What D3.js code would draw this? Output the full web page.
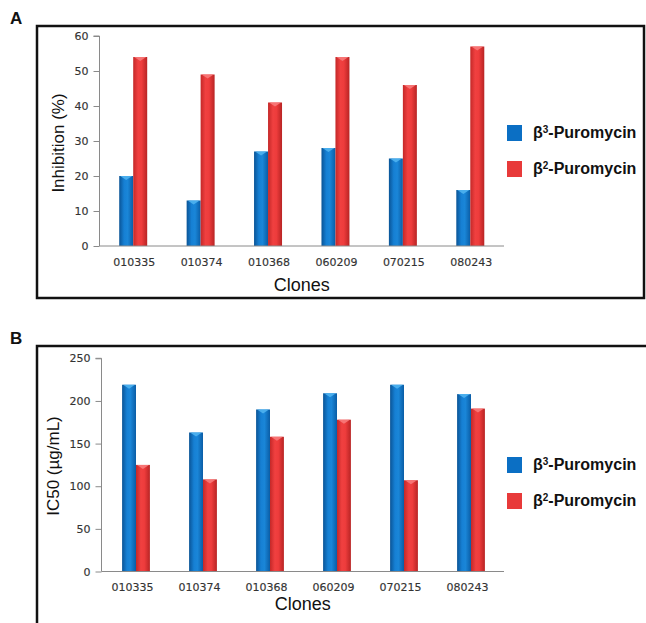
<!DOCTYPE html>
<html><head><meta charset="utf-8">
<script src="https://cdn.jsdelivr.net/npm/d3@7"></script>
<style>body{margin:0;background:#fff}svg{display:block}</style>
</head><body>
<svg id="c" width="646" height="623"></svg>
<script>
const clones = ["010335","010374","010368","060209","070215","080243"];
const seriesNames = ["β3","β2"];
const inhibitionB3 = [20,13,27,28,25,16];
const inhibitionB2 = [54,49,41,54,46,57];
const ic50B3 = [219,163,190,209,219,208];
const ic50B2 = [125,108,158,178,107,191];
const ticksA = [0,10,20,30,40,50,60];
const ticksB = [0,50,100,150,200,250];

const svg = d3.select("#c");
const defs = svg.append("defs");
function grad(id, stops){
  const g = defs.append("linearGradient").attr("id",id).attr("x1","0").attr("x2","1").attr("y1","0").attr("y2","0");
  stops.forEach(s=>g.append("stop").attr("offset",s[0]).attr("stop-color",s[1]));
}
grad("gBlue",[[0,"#0a5496"],[0.35,"#1680d4"],[0.6,"#1a86d8"],[1,"#0a5da6"]]);
grad("gRed",[[0,"#c42828"],[0.35,"#f04040"],[0.6,"#ee3c3c"],[1,"#b82424"]]);
const colors = {fill:["url(#gBlue)","url(#gRed)"], cap:["#4fb3f0","#f77a7a"], legend:["#0b6fc4","#e83a3a"]};

function panel(cfg){
  const g = svg.append("g");
  g.append("rect").attr("x",cfg.frame[0]).attr("y",cfg.frame[1]).attr("width",cfg.frame[2]).attr("height",cfg.frame[3])
    .attr("fill","none").attr("stroke","#111").attr("stroke-width",2.5);
  g.append("text").attr("x",10).attr("y",cfg.frame[1]-2).text(cfg.letter)
    .attr("font-family","Liberation Sans, Arial").attr("font-weight","bold").attr("font-size",17).attr("fill","#111");
  const x = d3.scaleBand().domain(clones).range([cfg.bx0,cfg.bx1]).paddingInner(0.585).paddingOuter(0.2925);
  const xs = d3.scaleBand().domain([0,1]).range([0,x.bandwidth()]);
  const y = d3.scaleLinear().domain([0,cfg.max]).range([cfg.y0,cfg.yTop]);
  const series = [cfg.b3,cfg.b2];
  series.forEach((vals,si)=>{
    const gs = g.append("g");
    gs.selectAll("rect").data(vals).join("rect")
      .attr("x",(d,i)=>x(clones[i])+xs(si)).attr("width",xs.bandwidth())
      .attr("y",d=>y(d)).attr("height",d=>cfg.y0-y(d)).attr("fill",colors.fill[si]);
    gs.selectAll("path").data(vals).join("path")
      .attr("d",(d,i)=>{const bx=x(clones[i])+xs(si), w=xs.bandwidth(), ty=y(d);
        return `M${bx+1},${ty} L${bx+w-1},${ty} L${bx+w/2},${ty+4} Z`;})
      .attr("fill",colors.cap[si]).attr("opacity",0.9);
  });
  const ya = g.append("g").attr("transform",`translate(${cfg.x0},0)`)
    .call(d3.axisLeft(y).tickValues(cfg.ticks).tickSize(6).tickPadding(5));
  ya.select(".domain").attr("stroke","#8a8a8a").attr("d",`M-6,${cfg.yTop}H0V${cfg.y0}`);
  ya.selectAll(".tick line").attr("stroke","#8a8a8a");
  ya.selectAll("text").attr("font-family","DejaVu Sans, Verdana").attr("font-size",11).attr("fill","#333")
    .attr("stroke","#333").attr("stroke-width",0.15);
  const xa = g.append("g").attr("transform",`translate(${cfg.labOff},${cfg.y0})`)
    .call(d3.axisBottom(x).tickSize(0).tickPadding(12));
  xa.select(".domain").attr("stroke","#8a8a8a").attr("d",`M${cfg.x0-cfg.labOff},0H${cfg.x1-cfg.labOff}`);
  xa.selectAll("text").attr("font-family","DejaVu Sans, Verdana").attr("font-size",11).attr("fill","#333")
    .attr("stroke","#333").attr("stroke-width",0.15);
  g.append("text").attr("transform",`translate(${cfg.ylabX},${cfg.ylabY}) rotate(-90)`).attr("text-anchor","middle")
    .attr("font-family","Liberation Sans, Arial").attr("font-size",17).attr("fill","#111").text(cfg.ylab);
  g.append("text").attr("x",(cfg.x0+cfg.x1)/2).attr("y",cfg.xlabY).attr("text-anchor","middle")
    .attr("font-family","Liberation Sans, Arial").attr("font-size",18).attr("fill","#111").text("Clones");
  seriesNames.forEach((n,i)=>{
    const ly = cfg.legY + i*36;
    g.append("rect").attr("x",507).attr("y",ly).attr("width",15).attr("height",16).attr("fill",colors.legend[i]);
    const t = g.append("text").attr("x",533).attr("y",ly+13).attr("font-family","Liberation Sans, Arial")
      .attr("font-weight","bold").attr("font-size",16).attr("fill","#111");
    t.append("tspan").text("β");
    t.append("tspan").attr("font-size",10).attr("dy",-5).text(n.slice(1));
    t.append("tspan").attr("dy",5).text("-Puromycin");
  });
}

panel({letter:"A", frame:[37,26,607,272], x0:99.5, x1:504, bx0:99.5, bx1:504, labOff:1, y0:246, yTop:36, max:60, ticks:ticksA,
  b3:inhibitionB3, b2:inhibitionB2, ylab:"Inhibition (%)", ylabX:64, ylabY:143, xlabY:291, legY:125});
panel({letter:"B", frame:[37,346,640,300], x0:101.5, x1:504, bx0:102.5, bx1:504.5, labOff:-3.5, y0:571.5, yTop:358.3, max:250, ticks:ticksB,
  b3:ic50B3, b2:ic50B2, ylab:"IC50 (µg/mL)", ylabX:59, ylabY:466, xlabY:610, legY:457});
</script>
</body></html>
